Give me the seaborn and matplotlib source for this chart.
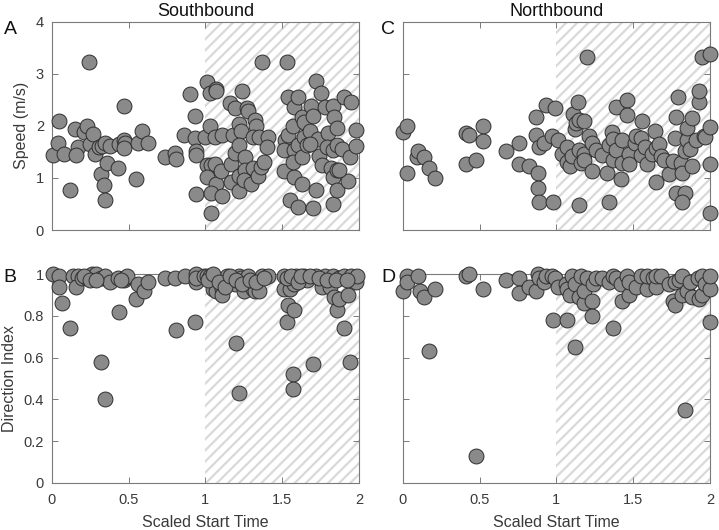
import matplotlib
matplotlib.use("Agg")
import matplotlib.pyplot as plt
import seaborn as sns
import pandas as pd

# ---------------- data ----------------
sb_speed_t = [0.01,0.05,0.04,0.08,0.12,0.15,0.17,0.16,0.21,0.23,0.24,0.25,0.27,0.28,0.31,0.32,0.33,0.34,0.35,0.36,
              0.35,0.38,0.43,0.44,0.47,0.47,0.48,0.47,0.55,0.56,0.59,0.63,0.74,0.80,0.81,0.86,0.90,0.93,0.93,0.94,
              0.94,0.94,1.00,1.01,1.03,1.07,1.07,1.03,1.01,1.04,1.06,1.01,1.07,1.04,1.04,1.06,1.10,1.11,1.11,1.16,
              1.19,1.17,1.18,1.19,1.17,1.22,1.23,1.22,1.22,1.22,1.24,1.26,1.26,1.27,1.28,1.25,1.30,1.31,1.32,1.33,
              1.31,1.35,1.34,1.36,1.38,1.37,1.41,1.40,1.51,1.53,1.54,1.55,1.52,1.51,1.54,1.57,1.58,1.60,1.60,1.58,
              1.58,1.57,1.60,1.63,1.64,1.64,1.63,1.63,1.66,1.68,1.69,1.70,1.72,1.75,1.73,1.72,1.70,1.74,1.76,1.78,
              1.80,1.79,1.83,1.84,1.86,1.83,1.82,1.86,1.83,1.83,1.86,1.86,1.89,1.90,1.95,1.94,1.93,1.98,1.98,1.87,
              1.68]
sb_speed = [1.44,2.10,1.68,1.45,0.76,1.94,1.60,1.44,1.89,2.00,3.22,1.65,1.84,1.45,1.60,1.08,1.62,0.87,1.68,1.28,
            0.58,1.62,1.20,1.65,2.38,1.73,1.68,1.58,0.97,1.68,1.90,1.68,1.40,1.47,1.36,1.83,2.61,2.18,1.76,1.51,
            1.44,0.69,1.78,2.84,2.64,2.71,2.66,2.00,1.25,1.25,1.27,1.01,0.88,0.72,0.33,1.78,1.14,1.83,0.66,2.44,
            2.34,1.27,1.83,1.47,0.93,2.04,1.90,1.63,0.74,1.03,2.67,1.41,1.15,2.34,2.28,0.96,0.88,1.19,2.12,2.00,
            1.78,1.79,1.04,1.21,1.30,3.22,1.79,1.60,1.14,3.22,2.56,0.58,1.73,1.53,1.83,2.00,2.36,2.55,0.45,1.01,
            1.54,1.31,1.63,2.17,2.08,1.79,1.40,0.88,1.63,1.91,2.38,2.19,2.87,2.64,1.74,0.76,0.43,1.42,1.25,2.36,
            1.86,1.60,2.38,2.17,1.96,1.53,1.19,1.63,1.01,0.49,1.15,0.77,1.55,2.55,2.45,1.41,0.95,1.62,1.92,1.15,
            1.65]

sb_dir_t = [0.01,0.05,0.05,0.07,0.12,0.14,0.17,0.16,0.20,0.23,0.26,0.29,0.32,0.32,0.34,0.35,0.35,0.38,0.44,0.43,
            0.47,0.48,0.49,0.55,0.56,0.60,0.63,0.74,0.80,0.81,0.87,0.93,0.94,0.94,0.94,0.99,1.01,1.03,1.05,1.07,
            1.07,1.11,1.11,1.14,1.17,1.19,1.20,1.22,1.22,1.23,1.25,1.27,1.28,1.31,1.32,1.35,1.37,1.41,1.51,1.51,
            1.53,1.54,1.55,1.57,1.57,1.58,1.58,1.59,1.61,1.64,1.66,1.70,1.72,1.76,1.78,1.81,1.83,1.84,1.86,1.87,
            1.87,1.90,1.90,1.93,1.94,1.95,1.98,1.99,1.02,1.05,1.09,1.13,1.16,1.20,1.24,1.29,1.33,1.38,1.53,1.56,
            1.60,1.62,1.68,1.74,1.79,1.85,1.92,0.21,0.25,0.29,0.45]
sb_dir = [1.00,0.99,0.94,0.86,0.74,0.99,0.99,0.94,0.98,0.98,1.00,1.00,0.58,0.98,0.98,0.99,0.40,0.96,0.82,0.98,
          0.97,0.98,0.99,0.88,0.95,0.92,0.96,0.98,0.98,0.73,0.99,0.77,0.96,1.00,0.98,0.99,0.99,0.99,0.93,0.97,
          0.92,0.93,0.90,0.99,0.98,0.95,0.67,0.99,0.43,0.98,0.92,0.98,0.99,0.93,0.92,0.92,0.99,0.99,0.99,0.93,
          0.77,0.85,0.93,0.52,0.45,0.83,0.95,0.99,0.97,0.99,0.97,0.57,0.99,0.94,0.99,0.94,0.99,0.89,0.83,0.88,
          0.98,0.74,0.99,0.90,0.58,0.99,0.96,0.99,0.97,1.00,0.96,0.94,0.99,0.97,0.95,0.97,0.96,0.98,0.98,0.99,
          0.96,0.99,0.99,0.98,0.97,0.97,0.97,0.99,0.97,0.97,0.97]

nb_speed_t = [0.00,0.03,0.03,0.09,0.10,0.14,0.17,0.21,0.41,0.43,0.41,0.48,0.52,0.52,0.67,0.76,0.76,0.82,0.87,0.87,
              0.88,0.88,0.89,0.89,0.92,0.93,0.97,0.99,0.98,1.01,1.04,1.07,1.07,1.09,1.10,1.11,1.12,1.13,1.14,1.15,
              1.18,1.15,1.16,1.15,1.18,1.18,1.20,1.21,1.23,1.23,1.26,1.30,1.33,1.34,1.34,1.36,1.37,1.37,1.39,1.39,
              1.42,1.43,1.43,1.46,1.46,1.47,1.47,1.51,1.52,1.55,1.56,1.55,1.58,1.59,1.62,1.64,1.65,1.67,1.68,1.70,
              1.65,1.73,1.76,1.77,1.78,1.79,1.78,1.84,1.82,1.81,1.82,1.84,1.85,1.85,1.87,1.88,1.88,1.91,1.93,1.93,
              1.96,1.97,1.95,2.00,2.00,2.00,2.00]
nb_speed = [1.88,2.00,1.09,1.40,1.51,1.40,1.19,0.99,1.87,1.83,1.27,1.35,2.00,1.70,1.51,1.68,1.27,1.22,2.17,1.83,
            1.10,0.80,0.54,1.59,1.68,2.40,1.81,2.34,0.53,1.72,1.46,1.59,1.31,1.23,1.42,2.23,1.94,2.06,2.45,2.12,
            2.10,1.53,1.29,0.48,1.46,1.35,3.33,1.81,1.68,1.14,1.53,1.44,1.10,1.63,0.53,1.89,1.74,1.35,1.54,2.37,
            0.97,1.72,1.29,2.50,2.21,1.46,1.27,1.68,1.81,1.76,2.10,1.44,1.60,1.27,1.46,1.91,1.57,1.65,1.42,1.35,
            0.93,1.08,1.33,1.76,2.17,2.56,0.71,0.71,0.53,1.29,1.10,1.51,1.72,1.96,1.55,2.15,1.22,1.72,2.45,2.66,
            1.81,1.79,3.32,3.38,1.97,1.27,0.33]

nb_dir_t = [0.00,0.03,0.03,0.10,0.11,0.14,0.21,0.17,0.41,0.43,0.48,0.52,0.67,0.76,0.76,0.82,0.87,0.88,0.89,0.92,
            0.93,0.97,0.98,0.99,1.01,1.07,1.06,1.07,1.09,1.10,1.12,1.12,1.15,1.16,1.18,1.18,1.20,1.23,1.23,1.24,
            1.26,1.30,1.34,1.37,1.37,1.39,1.42,1.43,1.46,1.47,1.47,1.52,1.55,1.59,1.59,1.63,1.65,1.65,1.68,1.73,
            1.76,1.77,1.77,1.80,1.82,1.82,1.84,1.85,1.87,1.88,1.92,1.93,1.95,1.95,1.97,2.00,2.00,2.00]
nb_dir = [0.92,0.99,0.96,0.99,0.92,0.89,0.93,0.63,0.99,1.00,0.13,0.93,0.97,0.98,0.91,0.94,0.92,1.00,0.98,0.96,
          0.99,0.99,0.78,0.98,0.94,0.78,0.95,0.93,0.90,0.99,0.95,0.65,0.89,0.99,0.86,0.92,0.98,0.87,0.80,0.95,
          0.98,0.98,0.96,0.74,0.99,0.98,0.95,0.87,0.99,0.90,0.96,0.94,0.99,0.93,0.99,0.98,0.94,0.99,0.99,0.95,
          0.87,0.85,0.96,0.97,0.90,0.99,0.35,0.92,0.96,0.89,0.98,0.88,0.90,0.99,0.95,0.77,0.93,0.99]

titles = ["Southbound", "Northbound"]
letters = ["A", "B", "C", "D"]
x_ticks = [0, 0.5, 1, 1.5, 2]
x_ticklabels = ["0", "0.5", "1", "1.5", "2"]
speed_ticks = [0, 1, 2, 3, 4]
speed_ticklabels = ["0", "1", "2", "3", "4"]
dir_ticks = [0, 0.2, 0.4, 0.6, 0.8, 1]
dir_ticklabels = ["0", "0.2", "0.4", "0.6", "0.8", "1"]

# ---------------- style ----------------
sns.set_style("white")
plt.rcParams["font.family"] = ["Liberation Sans", "DejaVu Sans"]
plt.rcParams["hatch.linewidth"] = 1.6
plt.rcParams["hatch.color"] = "#d9d9d9"

fig = plt.figure(figsize=(7.19, 5.30), dpi=100)
W, H = 719, 530

def pos(l, t, r, b):
    return [l / W, 1 - b / H, (r - l) / W, (b - t) / H]

ax_A = fig.add_axes(pos(51.7, 21.7, 359, 230))
ax_C = fig.add_axes(pos(402.7, 21.7, 710, 230))
ax_B = fig.add_axes(pos(51.7, 274, 359, 483))
ax_D = fig.add_axes(pos(402.7, 274, 710, 483))

panels = [
    (ax_A, sb_speed_t, sb_speed, (0, 4), speed_ticks),
    (ax_B, sb_dir_t, sb_dir, (0, 1), dir_ticks),
    (ax_C, nb_speed_t, nb_speed, (0, 4), speed_ticks),
    (ax_D, nb_dir_t, nb_dir, (0, 1), dir_ticks),
]

spine_col = "#7a7a7a"
text_col = "#3a3a3a"

for ax, xs, ys, ylim, yt in panels:
    ax.axvspan(1, 2, facecolor="none", edgecolor="#d9d9d9", hatch="///",
               linewidth=0, zorder=0)
    df = pd.DataFrame({"t": xs, "v": ys})
    sns.scatterplot(data=df, x="t", y="v", ax=ax, s=115, color="#8a8a8a",
                    edgecolor="#2e2e2e", linewidth=0.7, clip_on=False, zorder=3)
    ax.set_xlim(0, 2)
    ax.set_ylim(*ylim)
    ax.set_xticks(x_ticks)
    ax.set_yticks(yt)
    ax.set_xlabel("")
    ax.set_ylabel("")
    for sp in ax.spines.values():
        sp.set_visible(True)
        sp.set_color(spine_col)
        sp.set_linewidth(0.8)
    ax.tick_params(direction="in", length=4, width=0.7, color=spine_col,
                   top=True, right=True, labelsize=10.5, labelcolor=text_col,
                   bottom=True, left=True)
    ax.tick_params(axis="x", pad=7.5)
    ax.tick_params(axis="y", pad=5.5)

ax_A.set_yticklabels(speed_ticklabels)
ax_B.set_yticklabels(dir_ticklabels)
ax_A.tick_params(labelbottom=False)
ax_C.tick_params(labelbottom=False, labelleft=False)
ax_D.tick_params(labelleft=False)
ax_B.set_xticklabels(x_ticklabels)
ax_D.set_xticklabels(x_ticklabels)

ax_A.set_ylabel("Speed (m/s)", fontsize=11.5, color=text_col, labelpad=5)
ax_B.set_ylabel("Direction Index", fontsize=11.5, color=text_col, labelpad=5)
ax_B.set_xlabel("Scaled Start Time", fontsize=11.5, color=text_col, labelpad=5.5)
ax_D.set_xlabel("Scaled Start Time", fontsize=11.5, color=text_col, labelpad=5.5)
ax_A.set_title(titles[0], fontsize=13, color="#111111", pad=4)
ax_C.set_title(titles[1], fontsize=13, color="#111111", pad=4)

for (x, y), lab in zip([(10, 29), (10, 277), (388, 29), (388, 277)], letters):
    fig.text(x / W, 1 - y / H, lab, fontsize=14, ha="center", va="center",
             color="#111111")

fig.savefig("out.png", dpi=100)
